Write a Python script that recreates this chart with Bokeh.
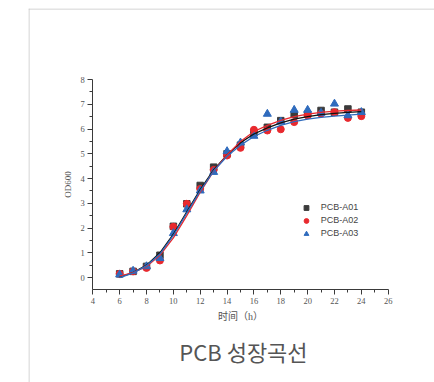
from bokeh.plotting import figure
from bokeh.models import (LinearAxis, FixedTicker, Range1d, Legend, LegendItem,
                          Label, Span)
from bokeh.embed import file_html
from bokeh.resources import INLINE

# ---- data ----
hours = [6, 7, 8, 9, 10, 11, 12, 13, 14, 15, 16, 17, 18, 19, 20, 21, 22, 23, 24]

a01 = [0.15, 0.25, 0.45, 0.90, 2.07, 2.98, 3.72, 4.46, 5.00, 5.35, 5.85, 6.07,
       6.34, 6.59, 6.60, 6.75, 6.68, 6.81, 6.68]
a02 = [0.15, 0.25, 0.39, 0.69, 2.05, 2.98, 3.58, 4.35, 4.93, 5.24, 5.97, 5.94,
       5.99, 6.28, 6.55, 6.62, 6.68, 6.45, 6.52]
a03 = [0.12, 0.27, 0.45, 0.78, 1.79, 2.75, 3.51, 4.26, 5.10, 5.45, 5.72, 6.61,
       6.30, 6.77, 6.77, 6.65, 7.02, 6.55, 6.68]

fit_a01 = [0.02, 0.20, 0.50, 1.00, 1.75, 2.65, 3.55, 4.35, 4.95, 5.45, 5.80, 6.05,
           6.25, 6.40, 6.50, 6.58, 6.63, 6.67, 6.70]
fit_a02 = [0.06, 0.20, 0.45, 0.90, 1.60, 2.50, 3.45, 4.30, 4.95, 5.50, 5.90, 6.15,
           6.35, 6.50, 6.60, 6.67, 6.72, 6.75, 6.77]
fit_a03 = [0.00, 0.18, 0.48, 0.95, 1.70, 2.60, 3.50, 4.30, 4.90, 5.35, 5.70, 5.95,
           6.15, 6.30, 6.40, 6.47, 6.52, 6.56, 6.60]

series_names = ["PCB-A01", "PCB-A02", "PCB-A03"]
x_ticks = [4, 6, 8, 10, 12, 14, 16, 18, 20, 22, 24, 26]
x_minor = [5, 7, 9, 11, 13, 15, 17, 19, 21, 23, 25]
y_ticks = [0, 1, 2, 3, 4, 5, 6, 7, 8]
y_minor = [0.5, 1.5, 2.5, 3.5, 4.5, 5.5, 6.5, 7.5]
title_text = "PCB 성장곡선"
x_label = "时间（h）"
y_label = "OD600"

# ---- figure ----
p = figure(width=434, height=382, output_backend="svg", toolbar_location=None,
           x_axis_location=None, y_axis_location=None,
           x_range=Range1d(-0.79, 29.45), y_range=Range1d(-4.24, 10.87),
           min_border_left=28, min_border_right=0, min_border_top=8,
           min_border_bottom=0)
p.outline_line_color = None
p.grid.visible = False
p.background_fill_color = "white"
p.border_fill_color = "white"

axis_color = "#3a3a3a"
lbl_color = "#555555"
serif = "Liberation Serif"

xaxis = LinearAxis(fixed_location=-0.5, bounds=(4, 26),
                   ticker=FixedTicker(ticks=x_ticks, minor_ticks=x_minor))
yaxis = LinearAxis(fixed_location=4, bounds=(-0.5, 8),
                   ticker=FixedTicker(ticks=y_ticks, minor_ticks=y_minor))
for ax in (xaxis, yaxis):
    ax.axis_line_color = axis_color
    ax.axis_line_width = 1
    ax.major_tick_line_color = axis_color
    ax.minor_tick_line_color = axis_color
    ax.major_tick_out = 5
    ax.major_tick_in = 0
    ax.minor_tick_out = 3
    ax.minor_tick_in = 0
    ax.major_label_text_font = serif
    ax.major_label_text_font_size = "8.5px"
    ax.major_label_text_color = lbl_color
    ax.major_label_standoff = 3
    ax.axis_label_text_font = "Liberation Serif, Noto Sans CJK SC"
    ax.axis_label_text_font_style = "normal"
    ax.axis_label_text_color = lbl_color
    ax.axis_label_standoff = 4
xaxis.axis_label = x_label
xaxis.axis_label_text_font_size = "10px"
yaxis.axis_label = y_label
yaxis.axis_label_text_font_size = "9px"
p.add_layout(xaxis, "below")
p.add_layout(yaxis, "left")

# card border lines
p.add_layout(Span(location=-0.755, dimension="height", line_color="#c6c6c6", line_width=1))
p.add_layout(Span(location=10.85, dimension="width", line_color="#c6c6c6", line_width=1))

black = "#3b3b3b"
red = "#e8292e"
blue = "#2f6bbd"

r1 = p.scatter(hours, a01, marker="square", size=6.5, fill_color=black, line_color=black)
r2 = p.scatter(hours, a02, marker="circle", size=7, fill_color=red, line_color=red)
r3 = p.scatter(hours, a03, marker="triangle", size=8, fill_color=blue, line_color=blue)

p.line(hours, fit_a01, line_color="#111111", line_width=1.3)
p.line(hours, fit_a02, line_color=red, line_width=1.3)
p.line(hours, fit_a03, line_color=blue, line_width=1.3)

legend = Legend(items=[LegendItem(label=series_names[0], renderers=[r1]),
                       LegendItem(label=series_names[1], renderers=[r2]),
                       LegendItem(label=series_names[2], renderers=[r3])],
                location=(271.7, 142.2), orientation="vertical",
                glyph_width=12, glyph_height=13, label_height=13, spacing=0,
                label_standoff=9, padding=0, margin=0,
                border_line_color=None, background_fill_alpha=0,
                label_text_font="Liberation Sans", label_text_font_size="9px",
                label_text_color="#444444")
p.add_layout(legend)

p.add_layout(Label(x=15.22, y=-2.95, text=title_text, text_align="center",
                   text_baseline="middle", text_font="Noto Sans CJK KR",
                   text_font_size="22px", text_color="#555555"))

open("out.html", "w").write(file_html(p, INLINE))
